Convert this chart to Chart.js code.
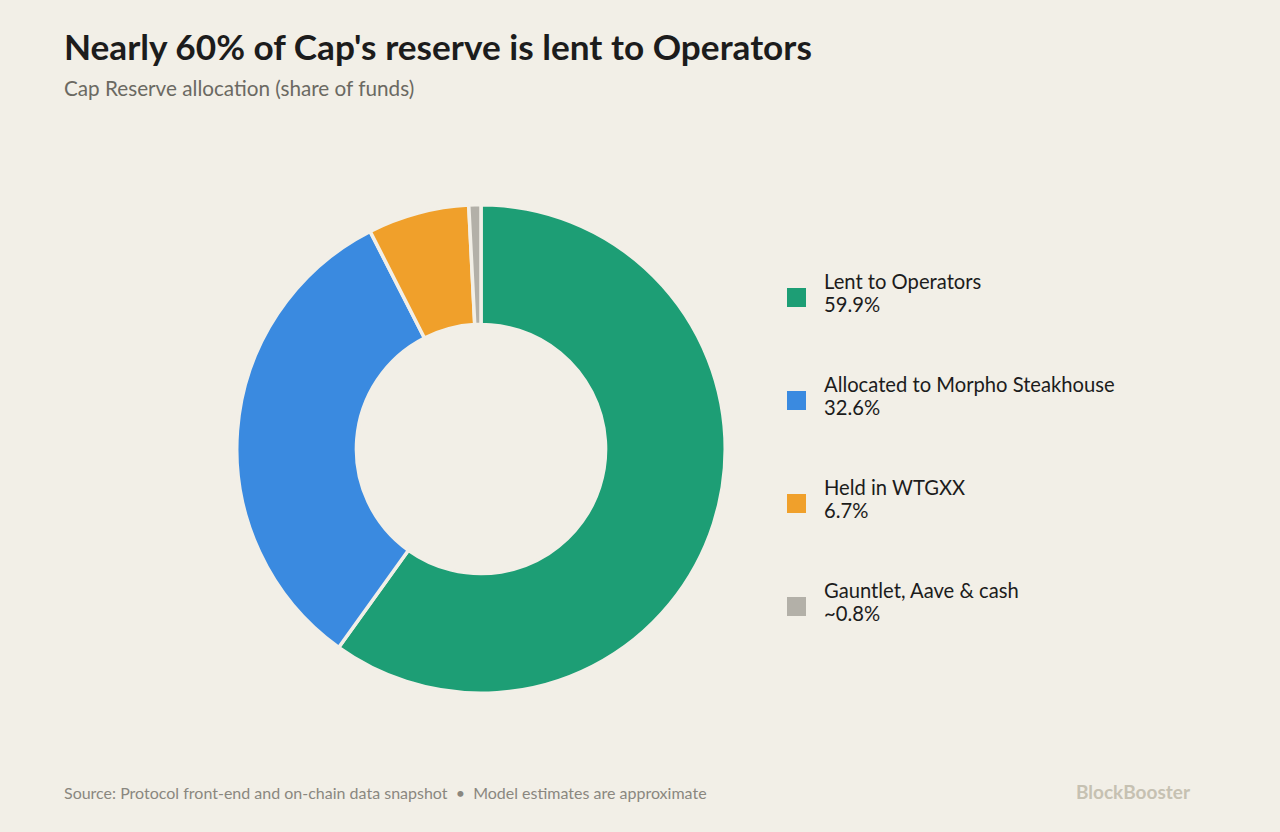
<!DOCTYPE html>
<html>
<head>
<meta charset="utf-8">
<script src="https://cdn.jsdelivr.net/npm/chart.js@4.4.1/dist/chart.umd.min.js"></script>
<style>
  html, body { margin: 0; padding: 0; }
  body {
    width: 1280px; height: 832px; overflow: hidden;
    background: #f2efe7;
    font-family: Lato, "Noto Sans", sans-serif;
    position: relative;
  }
  #title {
    position: absolute; left: 64px; top: 25px;
    font-size: 35.2px; font-weight: 700; color: #1c1c1c;
    white-space: nowrap;
  }
  #subtitle {
    position: absolute; left: 64px; top: 76px;
    font-size: 20.7px; color: #6b6962; white-space: nowrap;
  }
  #chartBox {
    position: absolute; left: 235px; top: 203px;
    width: 492px; height: 492px;
  }
  #legend {
    position: absolute; left: 787px; top: 270px;
  }
  .item { position: relative; height: 103px; }
  .swatch {
    position: absolute; left: 0; top: 18px;
    width: 19px; height: 19px;
  }
  .label {
    position: absolute; left: 37px; top: 0;
    font-size: 20.2px; line-height: 23px; color: #1c1c1c; white-space: nowrap;
  }
  #footer {
    position: absolute; left: 64px; top: 783px;
    font-size: 16px; color: #8a877f; white-space: nowrap;
  }
  #brand {
    position: absolute; right: 90px; top: 780px;
    font-size: 19px; font-weight: 700; color: #c6c1b2;
  }
</style>
</head>
<body>
<div id="title">Nearly 60% of Cap's reserve is lent to Operators</div>
<div id="subtitle">Cap Reserve allocation (share of funds)</div>
<div id="chartBox"><canvas id="reserveChart"></canvas></div>
<div id="legend"></div>
<div id="footer">Source: Protocol front-end and on-chain data snapshot &nbsp;•&nbsp; Model estimates are approximate</div>
<div id="brand">BlockBooster</div>

<script>
const categories = ['Lent to Operators', 'Allocated to Morpho Steakhouse', 'Held in WTGXX', 'Gauntlet, Aave & cash']
const shares = [59.9, 32.6, 6.7, 0.8]
const shareLabels = ['59.9%', '32.6%', '6.7%', '~0.8%']
const colors = ['#1d9e75', '#3a8ae0', '#f0a02b', '#b3b0a8']
const bg = '#f2efe7'

// legend built from the same arrays
const legend = document.getElementById('legend')
categories.forEach((c, i) => {
  const item = document.createElement('div')
  item.className = 'item'
  item.innerHTML = `<div class="swatch" style="background:${colors[i]}"></div>` +
    `<div class="label">${c}<br>${shareLabels[i]}</div>`
  legend.appendChild(item)
})

const ctx = document.getElementById('reserveChart').getContext('2d')
window.reserveChart = new Chart(ctx, {
  type: 'doughnut',
  data: {
    labels: categories,
    datasets: [{
      data: shares,
      backgroundColor: colors,
      borderColor: bg,
      borderWidth: 3.5
    }]
  },
  options: {
    responsive: true,
    maintainAspectRatio: false,
    animation: false,
    cutout: '51%',
    layout: { padding: 0 },
    plugins: {
      legend: { display: false },
      tooltip: { enabled: false }
    }
  }
})
</script>
</body>
</html>
